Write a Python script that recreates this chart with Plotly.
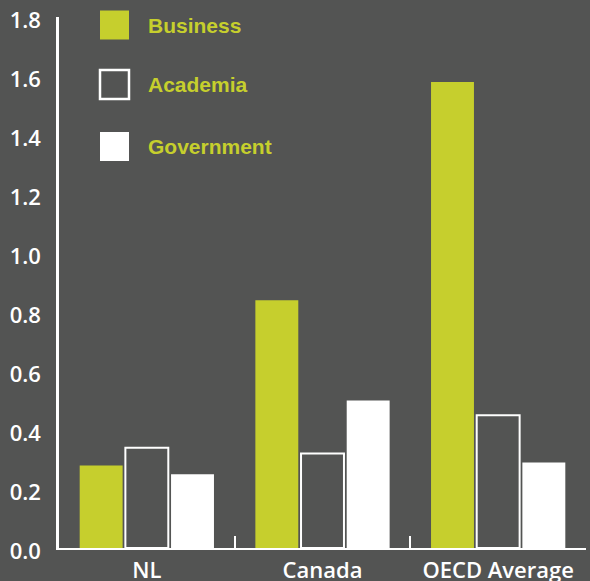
import plotly.graph_objects as go

# Gross R&D expenditure as a share of GDP, by performing sector
regions = ["NL", "Canada", "OECD Average"]
series_names = ["Business", "Academia", "Government"]
business = [0.28, 0.84, 1.58]
academia = [0.34, 0.32, 0.45]
government = [0.25, 0.50, 0.29]
y_ticks = [0.0, 0.2, 0.4, 0.6, 0.8, 1.0, 1.2, 1.4, 1.6, 1.8]

BG = "#535453"
LIME = "#c6cf2d"
WHITE = "#ffffff"
W, H = 590, 581
ML, MR, MT, MB = 59, 4, 17, 33

fig = go.Figure()
fig.add_trace(go.Bar(x=regions, y=business, name=series_names[0],
                     marker=dict(color=LIME, line=dict(width=0))))
fig.add_trace(go.Bar(x=regions, y=academia, name=series_names[1],
                     marker=dict(color=BG, line=dict(color=WHITE, width=2))))
fig.add_trace(go.Bar(x=regions, y=government, name=series_names[2],
                     marker=dict(color=WHITE, line=dict(width=0))))


def px_to_paper(px, py):
    return (px - ML) / (W - ML - MR), (H - MB - py) / (H - MT - MB)


# Hand-placed key: large swatches with bold labels
legend_rows = [(series_names[0], 25, "fill_lime"),
               (series_names[1], 84.5, "outline"),
               (series_names[2], 146.5, "fill_white")]
shapes = []
annotations = []
for label, cy, style in legend_rows:
    x0, y0 = px_to_paper(100, cy - 14.5)
    x1, y1 = px_to_paper(129, cy + 14.5)
    if style == "fill_lime":
        shapes.append(dict(type="rect", xref="paper", yref="paper", x0=x0, x1=x1,
                           y0=y1, y1=y0, fillcolor=LIME, line=dict(width=0)))
    elif style == "fill_white":
        shapes.append(dict(type="rect", xref="paper", yref="paper", x0=x0, x1=x1,
                           y0=y1, y1=y0, fillcolor=WHITE, line=dict(width=0)))
    else:
        shapes.append(dict(type="rect", xref="paper", yref="paper", x0=x0, x1=x1,
                           y0=y1, y1=y0, fillcolor=BG,
                           line=dict(color=WHITE, width=2.5)))
    tx, ty = px_to_paper(146, cy)
    annotations.append(dict(
        xref="paper", yref="paper", x=tx, y=ty, text=label,
        showarrow=False, xanchor="left", yanchor="middle",
        font=dict(family="Liberation Sans, Arial, sans-serif",
                  size=21, color=LIME, weight="bold")))

tick_font = dict(family="Open Sans, Noto Sans, sans-serif", size=22, color=WHITE, weight=600)

fig.update_layout(
    width=W, height=H,
    margin=dict(l=ML, r=MR, t=MT, b=MB, pad=0, autoexpand=False),
    paper_bgcolor=BG, plot_bgcolor=BG,
    barmode="group", bargap=0.22, bargroupgap=0.06,
    showlegend=False,
    shapes=shapes, annotations=annotations,
    xaxis=dict(showgrid=False, zeroline=False, showline=True, linecolor=WHITE,
               linewidth=2, ticks="inside", tickson="boundaries", ticklen=12,
               tickwidth=2, tickcolor=WHITE, tickfont=tick_font,
               ticklabelstandoff=2, automargin=False),
    yaxis=dict(range=[0, 1.8], tickvals=y_ticks,
               ticktext=[f"{v:.1f}" for v in y_ticks],
               showgrid=False, zeroline=False, showline=True, linecolor=WHITE,
               linewidth=2.5, ticks="", ticklabelstandoff=11, ticklabelshift=3,
               tickfont=tick_font, automargin=False),
)

fig.write_html("out.html")
